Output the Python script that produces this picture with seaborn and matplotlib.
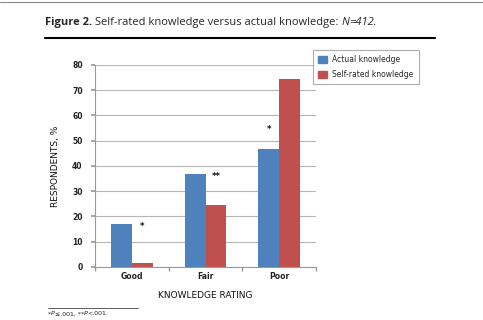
import matplotlib
matplotlib.use("Agg")
import matplotlib.pyplot as plt
import seaborn as sns
import pandas as pd
from matplotlib.lines import Line2D

categories = ["Good", "Fair", "Poor"]
series_names = ["Actual knowledge", "Self-rated knowledge"]
actual = [16.8, 36.8, 46.8]
self_rated = [1.5, 24.5, 74.3]
y_ticks = [0, 10, 20, 30, 40, 50, 60, 70, 80]
sig_labels = ["*", "**", "*"]
sig_series = [1, 1, 0]          # which series bar the marker sits over
sig_y = [16.0, 36.0, 54.5]
colors = ["#4F81BD", "#C0504D"]

df = pd.DataFrame({
    "rating": categories * 2,
    "series": [series_names[0]] * 3 + [series_names[1]] * 3,
    "value": actual + self_rated,
})

sns.set_theme(style="white")
plt.rcParams["font.family"] = ["Liberation Sans Narrow", "DejaVu Sans"]

fig = plt.figure(figsize=(4.83, 3.20), dpi=100)
ax = fig.add_axes([0.197, 0.166, 0.457, 0.631])

sns.barplot(data=df, x="rating", y="value", hue="series", order=categories,
            hue_order=series_names, palette=colors, width=0.57, saturation=1,
            ax=ax, legend=False, edgecolor="none")

ax.set_ylim(0, 80)
ax.set_xlim(-0.5, 2.5)
ax.set_yticks(y_ticks)
ax.set_yticklabels([str(t) for t in y_ticks], fontsize=5.5, color="#222222",
                   fontweight="bold")
ax.yaxis.grid(True, color="#b5b5b5", linewidth=0.8)
ax.set_axisbelow(True)
for s in ["top", "right"]:
    ax.spines[s].set_visible(False)
for s in ["left", "bottom"]:
    ax.spines[s].set_color("#9a9a9a")
    ax.spines[s].set_linewidth(0.8)
ax.tick_params(axis="y", which="both", left=True, length=3, color="#9a9a9a", pad=6)
ax.set_xticks(range(len(categories)))
ax.set_xticklabels(categories, fontsize=5.5, color="#222222", fontweight="bold")
ax.tick_params(axis="x", which="major", bottom=True, length=0, pad=4)
ax.set_xticks([-0.5, 0.5, 1.5, 2.5], minor=True)
ax.tick_params(axis="x", which="minor", bottom=True, length=3, color="#9a9a9a")
ax.set_xlabel("KNOWLEDGE RATING", fontsize=6.5, labelpad=7, color="#111111")
ax.set_ylabel("RESPONDENTS, %", fontsize=6.5, labelpad=9, color="#111111")

# significance markers over bars
patches = ax.patches
n = len(categories)
for i, (lab, sidx, yv) in enumerate(zip(sig_labels, sig_series, sig_y)):
    p = patches[sidx * n + i]
    ax.text(p.get_x() + p.get_width() / 2, yv, lab, ha="center", va="center",
            fontsize=6, color="#111111", fontweight="bold")

# legend
handles = [plt.Rectangle((0, 0), 1, 1, color=c) for c in colors]
leg = fig.legend(handles, series_names, loc="upper left",
                 bbox_to_anchor=(0.648, 0.845), fontsize=5.5, frameon=True,
                 fancybox=False, edgecolor="#9a9a9a", handlelength=1.1,
                 handleheight=1.1, borderpad=0.7, labelspacing=0.8,
                 handletextpad=0.7, borderaxespad=0)
leg.get_frame().set_linewidth(0.8)

# title
fig.canvas.draw()
r = fig.canvas.get_renderer()
tfam = ["Open Sans", "DejaVu Sans"]
t1 = fig.text(0.093, 0.931, "Figure 2.", fontsize=8, fontweight="bold",
              va="center", ha="left", family=tfam)
bb = t1.get_window_extent(r)
x2 = (bb.x1 + 3) / fig.bbox.width
t2 = fig.text(x2, 0.931, "Self-rated knowledge versus actual knowledge: ",
              fontsize=8, va="center", ha="left", family=tfam)
bb = t2.get_window_extent(r)
t3 = fig.text(bb.x1 / fig.bbox.width, 0.931, "N", fontsize=8, style="italic",
              va="center", ha="left", family=tfam)
bb = t3.get_window_extent(r)
fig.text(bb.x1 / fig.bbox.width, 0.931, "=412.", fontsize=8, style="italic",
         va="center", ha="left", family=tfam)

fig.add_artist(Line2D([0, 1], [0.994, 0.994], color="#888888", linewidth=0.8))
fig.add_artist(Line2D([0.093, 0.901], [0.881, 0.881], color="black", linewidth=1.5))
fig.add_artist(Line2D([0.099, 0.286], [0.0375, 0.0375], color="#444444", linewidth=0.6))

# footnote
parts = [("*", "normal"), ("P", "italic"), ("\u2264.001, **", "normal"),
         ("P", "italic"), ("<.001.", "normal")]
x = 0.099
for txt, st in parts:
    t = fig.text(x, 0.019, txt, fontsize=4.5, style=st, va="center", ha="left",
                 color="#222222")
    x = t.get_window_extent(r).x1 / fig.bbox.width

fig.savefig("out.png", dpi=100)
